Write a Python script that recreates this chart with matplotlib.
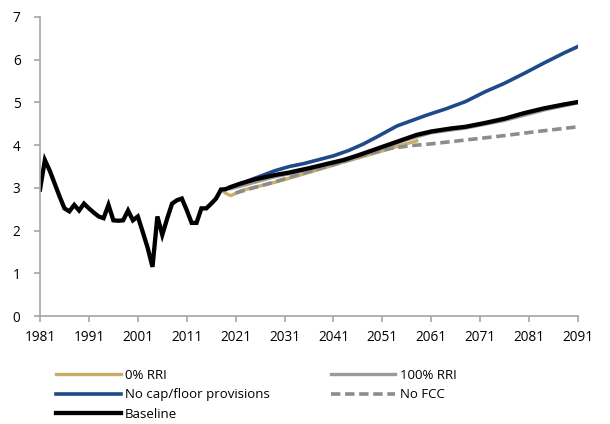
import matplotlib
matplotlib.use("Agg")
import matplotlib.pyplot as plt

plt.rcParams["font.family"] = ["Open Sans", "DejaVu Sans"]

# historical series
hist_years = list(range(1981, 2021))
hist_values = [2.96, 3.65, 3.40, 3.10, 2.80, 2.52, 2.45, 2.60, 2.47, 2.63,
               2.52, 2.42, 2.33, 2.29, 2.60, 2.24, 2.23, 2.24, 2.47, 2.24,
               2.33, 1.97, 1.60, 1.15, 2.33, 1.90, 2.28, 2.63, 2.71, 2.75,
               2.48, 2.18, 2.18, 2.52, 2.52, 2.63, 2.75, 2.96, 2.97, 3.02]

# projections
base_years = [2020, 2022, 2025, 2029, 2032, 2036, 2040, 2043, 2046, 2050, 2052,
              2056, 2058, 2061, 2065, 2068, 2072, 2076, 2080, 2084, 2088, 2091]
base_values = [3.02, 3.10, 3.20, 3.30, 3.36, 3.46, 3.57, 3.65, 3.76, 3.92, 4.00,
               4.16, 4.24, 4.32, 4.39, 4.43, 4.52, 4.62, 4.75, 4.86, 4.95, 5.01]

rri0_years = [2018, 2019, 2020, 2021, 2022, 2024, 2029, 2036, 2043, 2050, 2054, 2058]
rri0_values = [2.96, 2.87, 2.82, 2.87, 2.93, 2.99, 3.13, 3.36, 3.60, 3.83, 3.97, 4.10]

rri100_years = [2020, 2023, 2029, 2036, 2043, 2050, 2056, 2061, 2068, 2076, 2084, 2091]
rri100_values = [2.98, 3.07, 3.26, 3.42, 3.62, 3.88, 4.13, 4.29, 4.40, 4.58, 4.82, 4.99]

nocap_years = [2020, 2022, 2026, 2029, 2032, 2035, 2038, 2041, 2044, 2047, 2050,
               2054, 2060, 2064, 2068, 2072, 2076, 2080, 2084, 2088, 2091]
nocap_values = [3.02, 3.10, 3.27, 3.40, 3.50, 3.57, 3.66, 3.75, 3.87, 4.02, 4.20,
                4.45, 4.70, 4.85, 5.02, 5.25, 5.45, 5.68, 5.92, 6.15, 6.31]

nofcc_years = [2021, 2024, 2029, 2036, 2043, 2047, 2050, 2053, 2057, 2061, 2068,
               2075, 2082, 2091]
nofcc_values = [2.88, 2.98, 3.14, 3.38, 3.61, 3.76, 3.85, 3.93, 3.99, 4.03, 4.12,
                4.21, 4.31, 4.43]

fig = plt.figure(figsize=(6.1, 4.24), dpi=100)
ax = fig.add_axes([40 / 610, 1 - 316 / 424, 538 / 610, 299 / 424])

l_gold, = ax.plot(rri0_years, rri0_values, color="#C9AD6A", lw=2.4, label="0% RRI")
l_gray, = ax.plot(rri100_years, rri100_values, color="#9A9A9A", lw=2.4, label="100% RRI")
l_blue, = ax.plot(nocap_years, nocap_values, color="#1F4A8A", lw=2.6,
                  label="No cap/floor provisions")
l_dash, = ax.plot(nofcc_years, nofcc_values, color="#8C8C8C", lw=2.6,
                  ls=(0, (2.6, 1.3)), label="No FCC")
l_black, = ax.plot(hist_years + base_years, hist_values + base_values,
                   color="black", lw=3.1, label="Baseline", solid_joinstyle="miter")

ax.set_xlim(1981, 2091)
ax.set_ylim(0, 7)
ax.set_xticks(range(1981, 2092, 10))
ax.set_yticks(range(0, 8))
ax.spines["top"].set_visible(False)
ax.spines["right"].set_visible(False)
for s in ("left", "bottom"):
    ax.spines[s].set_color("#A6A6A6")
    ax.spines[s].set_linewidth(1.2)
ax.tick_params(axis="both", colors="#A6A6A6", labelcolor="black", labelsize=9.8,
               length=4, width=1.2)
ax.tick_params(axis="y", pad=10)
ax.tick_params(axis="x", pad=6)
for t in ax.get_xticklabels() + ax.get_yticklabels():
    t.set_clip_on(False)

fig.legend(handles=[l_gold, l_blue, l_black, l_gray, l_dash], ncol=2,
           loc="upper left", bbox_to_anchor=(44 / 610, 1 - 357 / 424),
           frameon=False, fontsize=9.5, handlelength=4.9, handletextpad=0.35,
           columnspacing=4.6, labelspacing=0.5)

fig.savefig("out.png", dpi=100)
